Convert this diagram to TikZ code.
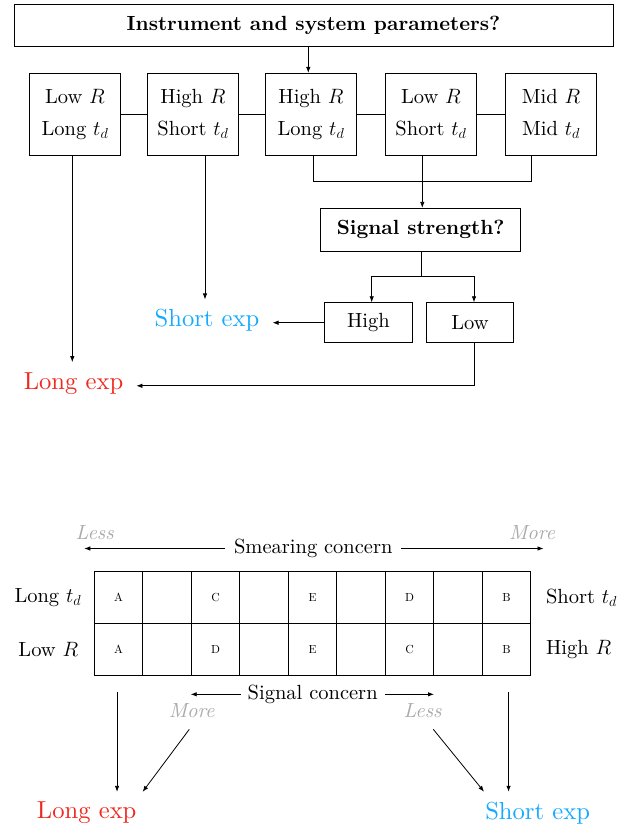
\documentclass[tikz,border=0pt]{standalone}
\usepackage{fontspec}
\setmainfont{lmroman10-regular.otf}[BoldFont=lmroman10-bold.otf,ItalicFont=lmroman10-italic.otf,BoldItalicFont=lmroman10-bolditalic.otf]
\usetikzlibrary{arrows.meta,calc}
\definecolor{expred}{RGB}{240,40,30}
\definecolor{expblue}{RGB}{20,170,255}
\definecolor{hintgray}{RGB}{170,170,170}
\tikzset{
  basefont/.style={font=\fontsize{20.5}{25}\selectfont},
  ln/.style={line width=0.8pt},
  arr/.style={line width=0.8pt,-{Latex[length=6pt,width=4.5pt]}},
  pbox/.style={draw,line width=0.8pt,inner sep=0pt,align=center,
    font=\fontsize{20.5}{32}\selectfont,minimum width=91.4pt,minimum height=81.7pt},
  qbox/.style={draw,line width=0.8pt,inner sep=0pt,font=\fontsize{20.5}{25}\selectfont\bfseries},
  abox/.style={draw,line width=0.8pt,inner sep=0pt,font=\fontsize{20.5}{25}\selectfont,minimum height=40pt},
  outred/.style={text=expred,font=\fontsize{24.6}{30}\selectfont,inner xsep=13pt,inner ysep=10pt},
  outblue/.style={text=expblue,font=\fontsize{24.6}{30}\selectfont,inner xsep=13pt,inner ysep=10pt},
  hint/.style={text=hintgray,font=\fontsize{20.5}{25}\selectfont\itshape,inner sep=0pt},
  cell/.style={draw,line width=0.8pt,minimum width=48.5pt,minimum height=51.7pt,inner sep=0pt,
    font=\fontsize{11.7}{14}\selectfont},
  sidelabel/.style={font=\fontsize{20.5}{25}\selectfont,inner sep=0pt},
}
\begin{document}
\begin{tikzpicture}[x=1pt,y=-1pt]
\useasboundingbox (0,0) rectangle (633,825);
% ---------- top flow chart ----------
\node[qbox,minimum width=599pt,minimum height=42pt] (top) at (313.5,25) {Instrument and system parameters?};
\node[pbox] (b1) at (75,114.2) {Low $R$\\Long $t_d$};
\node[pbox] (b2) at (193,114.2) {High $R$\\Short $t_d$};
\node[pbox] (b3) at (311,114.2) {High $R$\\Long $t_d$};
\node[pbox] (b4) at (431,114.2) {Low $R$\\Short $t_d$};
\node[pbox] (b5) at (551,114.2) {Mid $R$\\Mid $t_d$};
\draw[ln] (b1) -- (b2);
\draw[ln] (b2) -- (b3);
\draw[ln] (b3) -- (b4);
\draw[ln] (b4) -- (b5);
\draw[arr] ([xshift=-2.7pt]b3.north |- top.south) -- ([xshift=-2.7pt]b3.north);
\node[qbox,minimum width=200pt,minimum height=42.7pt] (sig) at (420.7,229.6) {Signal strength?};
\draw[ln] ([xshift=2.3pt]b3.south) -- ++(0,26) -| ([xshift=-19.3pt]b5.south);
\draw[arr] ([xshift=1.6pt]sig.north |- b4.south) -- ([xshift=1.6pt]sig.north);
\node[abox,minimum width=88.7pt] (hi) at (368.4,322.7) {High};
\node[abox,minimum width=86.6pt] (lo) at (470,322.7) {Low};
\draw[arr] ([xshift=1pt]sig.south) -- ++(0,25) -| ([xshift=3.3pt]hi.north);
\draw[arr] ([xshift=1pt]sig.south) -- ++(0,25) -| ([xshift=4pt]lo.north);
\node[outblue] (sexpA) at (207,320.7) {Short exp};
\node[outred] (lexpA) at (73.5,383.3) {Long exp};
\draw[arr] ([xshift=12pt]b2.south) -- ([xshift=12pt]b2.south |- sexpA.north);
\draw[arr] ([xshift=-2.7pt]b1.south) -- ([xshift=-2.7pt]b1.south |- lexpA.north);
\draw[arr] (hi.west) -- (hi.west -| sexpA.east);
\draw[arr] ([xshift=4pt]lo.south) |- ([yshift=-2.5pt]lexpA.east);
% ---------- bottom scale ----------
\node[hint] (less1) at (94.7,533) {Less};
\node[hint] (more1) at (532,533) {More};
\node[basefont,inner xsep=8.5pt,inner ysep=0pt] (smear) at (313.3,548.5) {Smearing concern};
\coordinate (smearL) at (84.3,548.5);
\coordinate (smearR) at (543.5,548.5);
\draw[arr] (smear.west) -- (smear.west -| smearL);
\draw[arr] (smear.east) -- (smear.east -| smearR);
\foreach \i/\a/\b in {1/A/A,2//,3/C/D,4//,5/E/E,6//,7/D/C,8//,9/B/B}{
  \node[cell] (t\i) at ({94.3+48.5*(\i-0.5)},597.5) {\a};
  \node[cell] (u\i) at ({94.3+48.5*(\i-0.5)},649.2) {\b};
}
\node[sidelabel,anchor=east] (ltd) at ([xshift=-12.5pt]t1.west) {Long $t_d$};
\node[sidelabel,anchor=east] (lr) at ([xshift=-15.5pt]u1.west) {Low $R$};
\node[sidelabel,anchor=west] (std) at ([xshift=14.6pt]t9.east) {Short $t_d$};
\node[sidelabel,anchor=west] (hr) at ([xshift=14.6pt]u9.east) {High $R$};
\node[basefont,inner xsep=7pt,inner ysep=0pt] (sigc) at (312.7,694.3) {Signal concern};
\coordinate (sigcL) at (190.7,694.3);
\coordinate (sigcR) at (434,694.3);
\draw[arr] (sigc.west) -- (sigc.west -| sigcL);
\draw[arr] (sigc.east) -- (sigc.east -| sigcR);
\node[hint] (more2) at (191.7,711) {More};
\node[hint] (less2) at (422.5,711) {Less};
\node[outred] (lexpB) at (86.7,813) {Long exp};
\node[outblue] (sexpB) at (537.6,813) {Short exp};
\draw[arr] ([xshift=-1.5pt,yshift=-16.7pt]u1.south) -- ([xshift=-1.5pt]u1.south |- lexpB.north);
\draw[arr] ([xshift=2pt,yshift=-16.7pt]u9.south) -- ([xshift=2pt]u9.south |- sexpB.north);
\draw[arr] ([xshift=-2.4pt,yshift=-11pt]more2.south) -- ([xshift=-7pt]lexpB.north east);
\draw[arr] ([xshift=10.8pt,yshift=-11pt]less2.south) -- ([xshift=12pt]sexpB.north west);
\end{tikzpicture}
\end{document}
